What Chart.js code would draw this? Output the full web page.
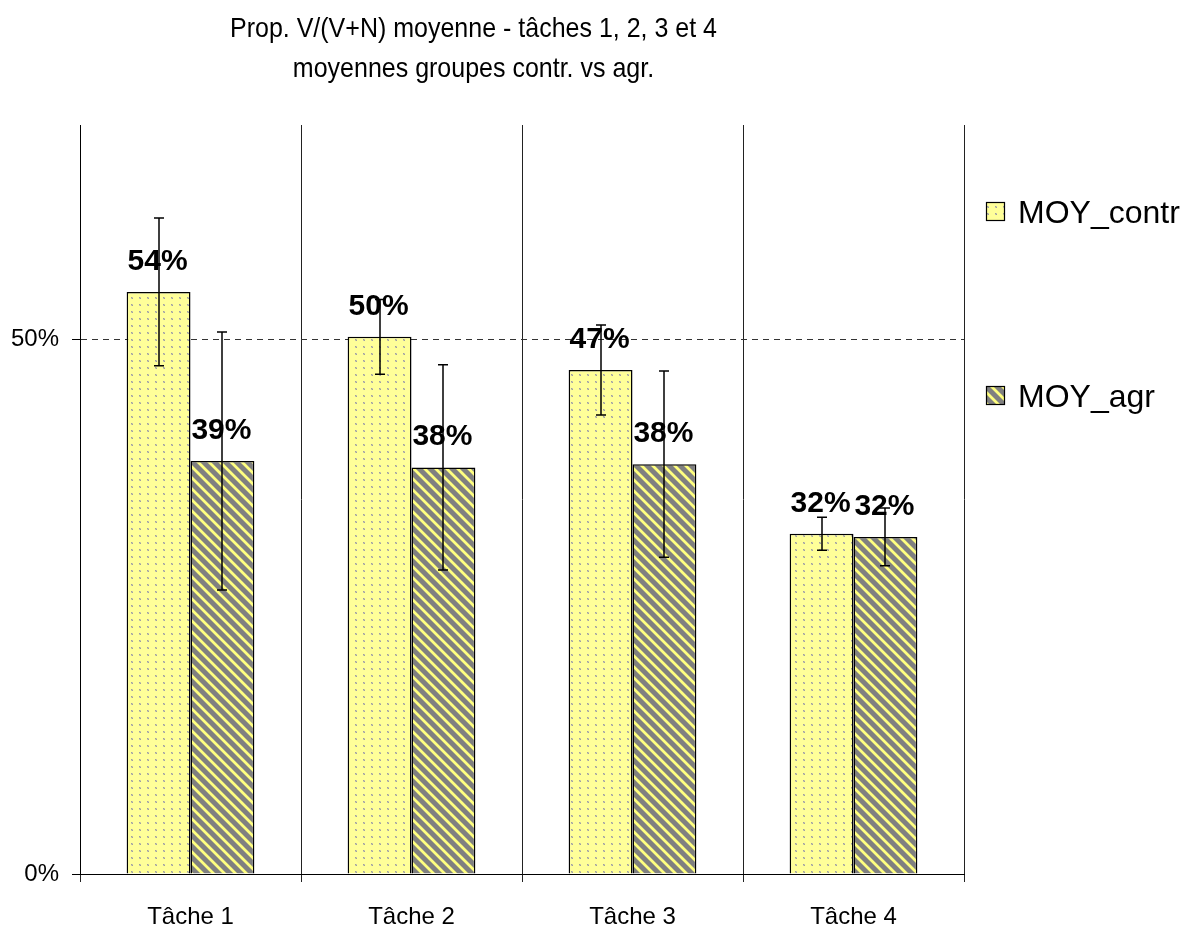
<!DOCTYPE html>
<html><head><meta charset="utf-8">
<script src="https://cdn.jsdelivr.net/npm/chart.js@4.4.1/dist/chart.umd.min.js"></script>
<style>html,body{margin:0;padding:0;background:#fff;overflow:hidden}#wrap{width:1190px;height:926px;position:relative}</style>
</head><body><div id="wrap"><canvas id="c" width="1190" height="926"></canvas></div>
<script>
const categories = ['Tâche 1', 'Tâche 2', 'Tâche 3', 'Tâche 4'];
const seriesNames = ['MOY_contr', 'MOY_agr'];
const moyContr = [54.4, 50.2, 47.1, 31.8];
const moyAgr = [38.6, 38.0, 38.3, 31.5];
const errContr = [6.9, 3.5, 4.2, 1.55];
const errAgr = [12.05, 9.6, 8.7, 2.7];
const yTicks = [0, 50];
const titleLines = ['Prop. V/(V+N) moyenne - tâches 1, 2, 3 et 4', 'moyennes groupes contr. vs agr.'];

const FONT = '"Liberation Sans", Arial, sans-serif';
const helper = document.createElement('canvas').getContext('2d');

function dotPattern() {
  const c = document.createElement('canvas'); c.width = 8; c.height = 7;
  const x = c.getContext('2d');
  x.fillStyle = '#FFFF99'; x.fillRect(0, 0, 8, 7);
  x.fillStyle = '#c8c8a8'; x.fillRect(3, 3, 2, 2);
  x.fillStyle = '#a0a0a0'; x.fillRect(3, 3, 1, 1); x.fillRect(4, 4, 1, 1);
  return helper.createPattern(c, 'repeat');
}
function stripePattern() {
  const P = 11;
  const c = document.createElement('canvas'); c.width = P; c.height = P;
  const x = c.getContext('2d');
  x.fillStyle = '#808080'; x.fillRect(0, 0, P, P);
  x.strokeStyle = '#FFFF80'; x.lineWidth = 2.8;
  x.beginPath();
  x.moveTo(-3, -3); x.lineTo(P + 3, P + 3);
  x.moveTo(P - 3, -3); x.lineTo(P + 3, 3);
  x.moveTo(-3, P - 3); x.lineTo(3, P + 3);
  x.stroke();
  return helper.createPattern(c, 'repeat');
}
const fills = [dotPattern(), stripePattern()];
const errs = [errContr, errAgr];

const valueLabels = {
  id: 'valueLabels',
  afterDatasetsDraw(chart) {
    const ctx = chart.ctx;
    ctx.save();
    ctx.font = 'bold 30px ' + FONT;
    ctx.fillStyle = '#000';
    ctx.textAlign = 'center';
    ctx.textBaseline = 'alphabetic';
    chart.data.datasets.forEach((ds, di) => {
      chart.getDatasetMeta(di).data.forEach((bar, i) => {
        ctx.fillText(Math.round(ds.data[i]) + '%', bar.x - 1, bar.y - 22);
      });
    });
    ctx.restore();
  }
};

const errorBars = {
  id: 'errorBars',
  afterDatasetsDraw(chart) {
    const ctx = chart.ctx, y = chart.scales.y;
    ctx.save();
    ctx.strokeStyle = '#000'; ctx.lineWidth = 1.5;
    chart.data.datasets.forEach((ds, di) => {
      chart.getDatasetMeta(di).data.forEach((bar, i) => {
        const v = ds.data[i], e = errs[di][i];
        const yt = y.getPixelForValue(v + e), yb = y.getPixelForValue(v - e);
        const x = Math.round(bar.x);
        ctx.beginPath();
        ctx.moveTo(x, yt); ctx.lineTo(x, yb);
        ctx.moveTo(x - 5, yt); ctx.lineTo(x + 5, yt);
        ctx.moveTo(x - 5, yb); ctx.lineTo(x + 5, yb);
        ctx.stroke();
      });
    });
    ctx.restore();
  }
};

const titleAndLegend = {
  id: 'titleAndLegend',
  afterDraw(chart) {
    const ctx = chart.ctx;
    ctx.save();
    ctx.fillStyle = '#000';
    ctx.textAlign = 'center';
    ctx.textBaseline = 'alphabetic';
    ctx.font = '25px ' + FONT;
    ctx.save(); ctx.translate(473.5, 37); ctx.scale(1, 1.12); ctx.fillText(titleLines[0], 0, 0); ctx.restore();
    ctx.save(); ctx.translate(473.5, 77); ctx.scale(1, 1.12); ctx.fillText(titleLines[1], 0, 0); ctx.restore();
    // legend
    const items = [{ y: 202 }, { y: 386 }];
    ctx.textAlign = 'left';
    ctx.font = '32px ' + FONT;
    items.forEach((it, i) => {
      ctx.fillStyle = fills[i];
      ctx.fillRect(986, it.y, 19, 19);
      ctx.strokeStyle = '#000'; ctx.lineWidth = 1.2;
      ctx.strokeRect(986.5, it.y + 0.5, 18, 18);
      ctx.fillStyle = '#000';
      ctx.fillText(seriesNames[i], 1018, it.y + 21);
    });
    ctx.restore();
  }
};

new Chart(document.getElementById('c'), {
  type: 'bar',
  data: {
    labels: categories,
    datasets: [
      { label: seriesNames[0], data: moyContr, backgroundColor: fills[0], borderColor: '#000', borderWidth: 1.5, barPercentage: 1, categoryPercentage: 0.578 },
      { label: seriesNames[1], data: moyAgr, backgroundColor: fills[1], borderColor: '#000', borderWidth: 1.5, barPercentage: 1, categoryPercentage: 0.578 }
    ]
  },
  options: {
    responsive: false,
    animation: false,
    events: [],
    layout: { padding: { top: 125, right: 226, left: 0, bottom: 0 } },
    plugins: { legend: { display: false }, title: { display: false }, tooltip: { enabled: false } },
    scales: {
      x: {
        offset: true,
        grid: { offset: true, display: true, drawOnChartArea: true, drawTicks: true, tickLength: 8, color: '#222', tickColor: '#222', lineWidth: 1 },
        border: { display: true, color: '#000', width: 1 },
        ticks: { font: { family: FONT, size: 24 }, color: '#000', padding: 21, maxRotation: 0, autoSkip: false },
        afterFit(s) { s.height = 52; }
      },
      y: {
        min: 0, max: 70,
        afterBuildTicks(s) { s.ticks = yTicks.map(v => ({ value: v })); },
        grid: { color: '#333', lineWidth: 1, tickLength: 8, tickColor: '#000', tickBorderDash: [], drawTicks: true },
        border: { display: true, color: '#000', width: 1, dash: [6, 5] },
        ticks: { font: { family: FONT, size: 24 }, color: '#000', padding: 13, callback: v => v + '%' },
        afterFit(s) { s.width = 80; }
      }
    }
  },
  plugins: [valueLabels, errorBars, titleAndLegend]
});
</script></body></html>
